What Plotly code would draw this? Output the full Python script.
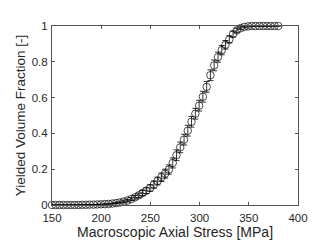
import plotly.graph_objects as go

stress = [150.0, 153.8, 157.7, 161.5, 165.3, 169.2, 173.0, 176.8, 180.7, 184.5,
          188.3, 192.2, 196.0, 199.8, 203.7, 207.5, 211.3, 215.2, 219.0, 222.8,
          226.7, 230.5, 234.3, 238.2, 242.0, 245.8, 249.7, 253.5, 257.3, 261.2,
          265.0, 268.8, 272.7, 276.5, 280.3, 284.2, 288.0, 291.8, 295.7, 299.5,
          303.3, 307.2, 311.0, 314.8, 318.7, 322.5, 326.3, 330.2, 334.0, 337.8,
          341.7, 345.5, 349.3, 353.2, 357.0, 360.8, 364.7, 368.5, 372.3, 376.2, 380.0]

fraction = [0, 0, 0, 0, 0, 0, 0, 0, 0.001, 0.001,
            0.002, 0.002, 0.003, 0.004, 0.005, 0.006, 0.008, 0.011, 0.014, 0.019,
            0.025, 0.033, 0.043, 0.054, 0.067, 0.080, 0.095, 0.114, 0.134, 0.155,
            0.175, 0.198, 0.235, 0.278, 0.322, 0.365, 0.415, 0.465, 0.510, 0.555,
            0.605, 0.660, 0.725, 0.780, 0.826, 0.865, 0.895, 0.925, 0.955, 0.975,
            0.988, 0.995, 0.998, 1.0, 1.0, 1.0, 1.0, 1.0, 1.0, 1.0, 1.0]

fraction_err = [0, 0, 0, 0, 0, 0, 0, 0, 0, 0,
                0, 0, 0, 0, 0, 0, 0.002, 0.003, 0.004, 0.005,
                0.006, 0.008, 0.010, 0.012, 0.014, 0.016, 0.018, 0.020, 0.022, 0.024,
                0.025, 0.026, 0.028, 0.030, 0.030, 0.030, 0.030, 0.030, 0.030, 0.030,
                0.030, 0.030, 0.030, 0.030, 0.028, 0.026, 0.024, 0.020, 0.016, 0.012,
                0.008, 0.005, 0.003, 0.001, 0, 0, 0, 0, 0, 0, 0]

x_ticks = [150, 200, 250, 300, 350, 400]
y_ticks = [0, 0.2, 0.4, 0.6, 0.8, 1]
y_tick_text = ["0", "0.2", "0.4", "0.6", "0.8", "1"]

fig = go.Figure()
fig.add_trace(go.Scatter(
    x=stress, y=fraction, mode="markers",
    marker=dict(symbol="circle-open", size=7.5, color="black", line=dict(width=0.7, color="black")),
    error_y=dict(type="data", array=fraction_err, visible=True, color="black", thickness=0.8, width=3),
    cliponaxis=False, showlegend=False,
))

font_family = "Liberation Sans, Arial, Helvetica"
axis_common = dict(
    showgrid=False, zeroline=False, showline=True, mirror="ticks",
    linecolor="#555555", linewidth=1, ticks="inside", ticklen=3, tickwidth=1,
    tickcolor="#555555", tickfont=dict(family=font_family, size=11.5, color="#262626"),
)

fig.update_layout(
    width=320, height=240,
    margin=dict(l=41, r=30, t=17, b=36),
    paper_bgcolor="white", plot_bgcolor="white",
    xaxis=dict(range=[150, 400], tickvals=x_ticks, ticklabelstandoff=2,
               title=dict(text="Macroscopic Axial Stress [MPa]", standoff=2,
                          font=dict(family=font_family, size=14, color="#262626")),
               **axis_common),
    yaxis=dict(range=[0, 1], tickvals=y_ticks, ticktext=y_tick_text, ticklabelstandoff=1,
               title=dict(text="Yielded Volume Fraction [-]", standoff=2,
                          font=dict(family=font_family, size=13.5, color="#262626")),
               **axis_common),
)

fig.write_html("out.html")
